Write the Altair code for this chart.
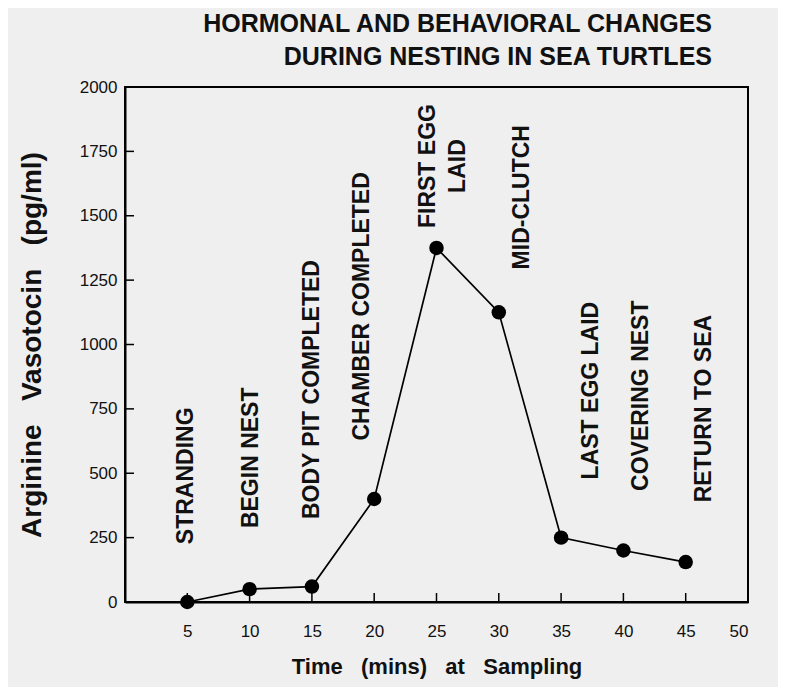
import altair as alt
import pandas as pd

# ---- data ----
time_min = [5, 10, 15, 20, 25, 30, 35, 40, 45]
avt = [0, 50, 60, 400, 1375, 1125, 250, 200, 155]

stage_labels = ["STRANDING", "BEGIN NEST", "BODY PIT COMPLETED", "CHAMBER COMPLETED",
                "FIRST EGG\nLAID", "MID-CLUTCH", "LAST EGG LAID", "COVERING NEST",
                "RETURN TO SEA"]
label_x = [4.9, 10.1, 15.0, 19.0, 24.3, 31.9, 37.4, 41.4, 46.5]
label_y = [490, 560, 825, 1148, 1693, 1572, 821, 801, 751]

x_ticks = [5, 10, 15, 20, 25, 30, 35, 40, 45, 50]
y_ticks = [0, 250, 500, 750, 1000, 1250, 1500, 1750, 2000]

W, H = 623, 515
FONT = "Liberation Sans"
NB = "\u00a0"

df = pd.DataFrame({"t": time_min, "v": avt})
lab = pd.DataFrame({"x": label_x, "y": label_y, "text": stage_labels})
xt = pd.DataFrame({"x": x_ticks[:-1]})
yt = pd.DataFrame({"y": y_ticks[1:-1]})

xscale = alt.Scale(domain=[0, 50], nice=False, zero=False)
yscale = alt.Scale(domain=[0, 2000], nice=False)

xaxis = alt.Axis(values=x_ticks, format="d",
                 title=f"Time{NB}{NB} (mins){NB}{NB} at{NB}{NB} Sampling", ticks=False,
                 labelFontSize=17, labelPadding=21, titleFontSize=22, titlePadding=17,
                 titleFontWeight="bold", labelFont=FONT, titleFont=FONT,
                 domainColor="black", domainWidth=2, grid=False, labelColor="#111",
                 titleColor="#111")
yaxis = alt.Axis(values=y_ticks, format="d",
                 title=f"Arginine{NB}{NB} Vasotocin{NB}{NB} (pg/ml)", ticks=False,
                 labelFontSize=17, labelPadding=8, titleFontSize=28, titlePadding=33,
                 titleFontWeight="bold", labelFont=FONT, titleFont=FONT,
                 domainColor="black", domainWidth=2, grid=False, labelColor="#111",
                 titleColor="#111")

base = alt.Chart(df)
line = base.mark_line(color="black", strokeWidth=1.7).encode(
    x=alt.X("t:Q", scale=xscale, axis=xaxis),
    y=alt.Y("v:Q", scale=yscale, axis=yaxis),
)
pts = base.mark_point(filled=True, color="black", size=210, opacity=1).encode(
    x=alt.X("t:Q", scale=xscale), y=alt.Y("v:Q", scale=yscale)
)
texts = alt.Chart(lab).mark_text(
    angle=270, align="center", baseline="middle", font=FONT, fontSize=23,
    fontWeight="bold", color="#111", lineBreak="\n", lineHeight=30
).encode(x=alt.X("x:Q", scale=xscale), y=alt.Y("y:Q", scale=yscale), text="text:N")

xtick_marks = alt.Chart(xt).mark_rule(color="black", strokeWidth=1.5).encode(
    x=alt.X("x:Q", scale=xscale), y=alt.value(H), y2=alt.value(H - 9)
)
ytick_marks = alt.Chart(yt).mark_rule(color="black", strokeWidth=1.5).encode(
    y=alt.Y("y:Q", scale=yscale), x=alt.value(0), x2=alt.value(9)
)

chart = alt.layer(line, xtick_marks, ytick_marks, pts, texts).properties(
    width=W, height=H,
    title=alt.TitleParams(
        text=["HORMONAL AND BEHAVIORAL CHANGES",
              "DURING NESTING IN SEA TURTLES"],
        font=FONT, fontSize=25, fontWeight="bold", color="#111", anchor="end",
        dx=-36, offset=8, lineHeight=33
    ),
    autosize=alt.AutoSizeParams(type="none"),
    padding={"left": 117, "top": 79, "right": 30, "bottom": 85},
    background="#efefef",
).configure_view(stroke="black", strokeWidth=2)

chart.save("out.html", embed_options={"renderer": "svg", "actions": False})
